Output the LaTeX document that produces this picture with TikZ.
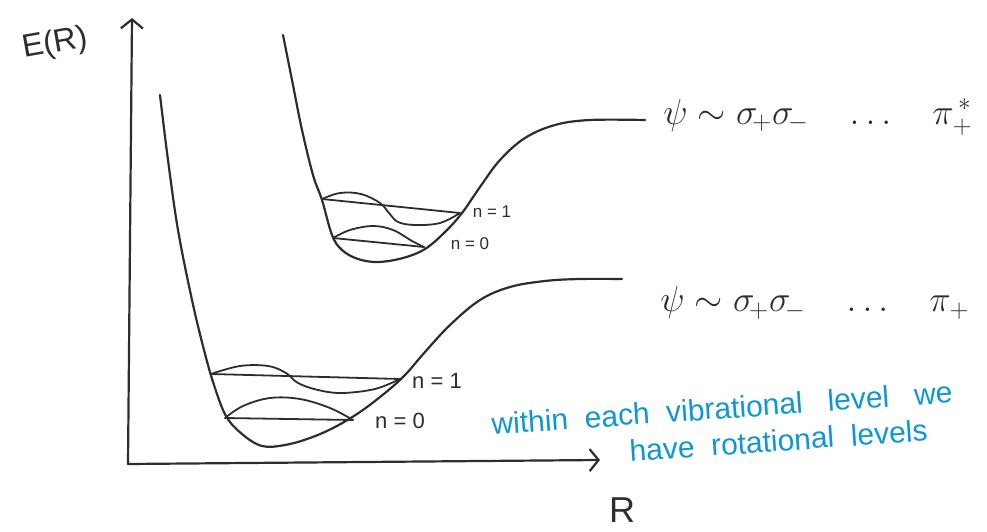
\documentclass[tikz,border=0pt]{standalone}
\usepackage{fontspec}
\setmainfont{Liberation Sans}
\usepackage{xcolor}
\usepackage{tikz}
\usetikzlibrary{arrows.meta, positioning}
\definecolor{pen}{RGB}{45,45,45}
\definecolor{note}{RGB}{16,150,212}

\begin{document}
\begin{tikzpicture}[x=1pt, y=-1pt,
  ink/.style={draw=pen, line width=2.2pt, line cap=round, line join=round},
  level/.style={draw=pen, line width=1.8pt, line cap=round, line join=round},
  axis/.style={ink, -{Straight Barb[length=9pt, width=22pt, line width=2.2pt]}},
  lbl/.style={text=pen, font=\fontsize{#1}{#1}\selectfont, inner sep=0pt},
  state/.style={text=pen, font=\fontsize{20}{20}\selectfont, inner sep=0pt, scale=1.75},
  hand/.style={text=note, font=\fontsize{30}{32}\selectfont, inner sep=0pt, rotate=4},
]
  \useasboundingbox (0,0) rectangle (987,532);

  % axes
  \coordinate (o) at (128,464);
  \coordinate (ytip) at (132,18);
  \coordinate (xtip) at (600,460);
  \draw[axis] (o) -- (ytip);
  \draw[axis] (o) -- (xtip);
  \node[lbl=32, rotate=10] (eaxis) at (55,44) {E(R)};
  \node[lbl=36] (raxis) at (622,510) {R};

  % ground state potential
  \draw[ink] plot[smooth, tension=0.6] coordinates {(160,95) (168,160) (178,230) (192,300)
    (204,350) (214,385) (226,416) (242,434) (262,446) (285,445) (310,438) (335,427)
    (360,412) (385,393) (405,375) (425,352) (450,325) (480,300) (510,287) (545,281)
    (580,279) (622,279)};
  % excited state potential
  \draw[ink] plot[smooth, tension=0.6] coordinates {(283,35) (292,80) (302,130) (313,175)
    (322,200) (332,235) (342,250) (358,259) (378,262) (403,258) (425,249) (445,232)
    (462,213) (480,187) (500,160) (525,138) (555,125) (590,120) (645,120)};

  % vibrational levels, ground state
  \draw[level] (211,374) -- (400,379);
  \draw[level] plot[smooth, tension=0.6] coordinates {(211,374) (240,366) (268,366)
    (286,373) (298,383) (318,390) (342,393) (375,389) (400,379)};
  \draw[level] (225,418) -- (353,420);
  \draw[level] plot[smooth, tension=0.6] coordinates {(225,418) (243,406) (270,398)
    (300,399) (330,408) (353,420)};
  \node[lbl=22] (n1low) at (437,381) {n = 1};
  \node[lbl=22] (n0low) at (400,421) {n = 0};

  % vibrational levels, excited state
  \draw[level] (322,199) -- (460,213);
  \draw[level] plot[smooth, tension=0.6] coordinates {(322,199) (340,193) (361,194)
    (380,203) (389,213) (398,222) (415,225) (440,223) (460,213)};
  \draw[level] (333,238) -- (424,247);
  \draw[level] plot[smooth, tension=0.6] coordinates {(333,238) (350,230) (373,226)
    (393,230) (412,241) (424,247)};
  \node[lbl=17] (n1up) at (492,212) {n = 1};
  \node[lbl=17] (n0up) at (470,244) {n = 0};

  % states
  \node[state] (psiup) at (818,117) {$\psi\sim\sigma_{\!+}\sigma_{\!-}\quad\dots\quad\pi_+^{\,*}$};
  \node[state] (psilow) at (815,303) {$\psi\sim\sigma_{\!+}\sigma_{\!-}\quad\dots\quad\pi_+$};

  % note
  \node[hand] (note1) at (722,408) {within\ \ each\ \ vibrational\ \ \ level\ \ \ we};
  \node[hand, below=14pt of note1, xshift=55pt] (note2) {have\ \ rotational\ \ levels};
\end{tikzpicture}
\end{document}
